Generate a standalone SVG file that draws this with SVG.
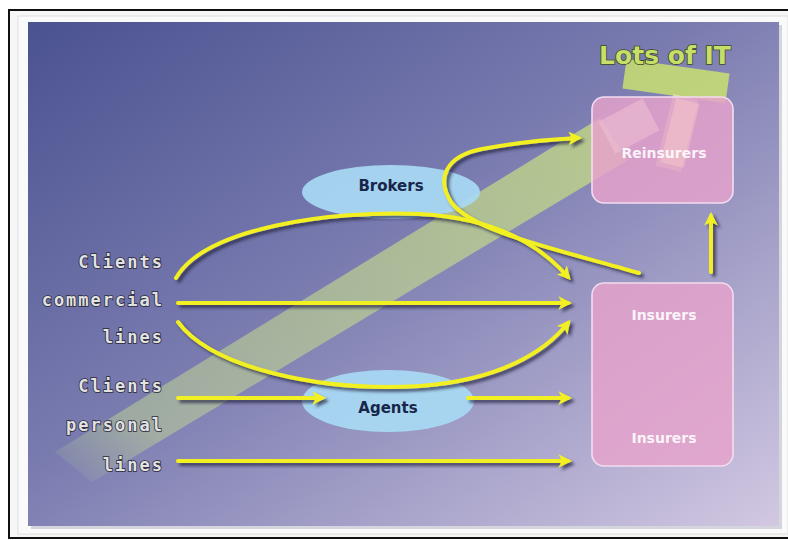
<svg xmlns="http://www.w3.org/2000/svg" width="788" height="540" viewBox="0 0 788 540">
  <defs>
    <linearGradient id="bg" x1="0" y1="0" x2="1" y2="1">
      <stop offset="0" stop-color="#4a5290"/>
      <stop offset="0.45" stop-color="#7a7cb0"/>
      <stop offset="1" stop-color="#d2c8e2"/>
    </linearGradient>
    <linearGradient id="band" x1="0" y1="1" x2="1" y2="0">
      <stop offset="0" stop-color="#c8e090" stop-opacity="0"/>
      <stop offset="0.15" stop-color="#c8e090" stop-opacity="0.45"/>
      <stop offset="1" stop-color="#c8e080" stop-opacity="0.75"/>
    </linearGradient>
    <filter id="sh" x="-10%" y="-10%" width="130%" height="140%">
      <feDropShadow dx="3" dy="3" stdDeviation="1.5" flood-color="#202040" flood-opacity="0.7"/>
    </filter>
    <marker id="ah" viewBox="0 0 10 10" refX="7" refY="5" markerWidth="3.4" markerHeight="3.4" orient="auto" markerUnits="strokeWidth">
      <path d="M0,0 L10,5 L0,10 L2.5,5 Z" fill="#f2f020"/>
    </marker>
  </defs>
  <style>
    .lbl { font-family: "DejaVu Sans Mono", "Liberation Mono", monospace; font-weight: bold; font-size: 17px; letter-spacing: 2px; fill: #e2e2e2; stroke: #2a2a3a; stroke-width: 1.6px; paint-order: stroke; text-anchor: end; }
    .box { fill: #e6a2cc; fill-opacity: 0.82; stroke: #f4dcf0; stroke-width: 1.6; }
    .boxt { font-family: "DejaVu Sans", "Liberation Sans", sans-serif; font-weight: bold; font-size: 14px; fill: #ffffff; fill-opacity: 0.9; text-anchor: middle; }
    .ell { fill: #a8daf4; fill-opacity: 0.92; }
    .ellt { font-family: "DejaVu Sans", "Liberation Sans", sans-serif; font-weight: bold; font-size: 15px; fill: #18264a; text-anchor: middle; }
    .yl { fill: none; stroke: #f2f020; stroke-width: 4; stroke-linecap: round; marker-end: url(#ah); }
  </style>

  <rect x="0" y="0" width="788" height="540" fill="#ffffff"/>
  <rect x="9" y="10" width="790" height="528" fill="#f6f6f6" stroke="#111111" stroke-width="2"/>
  <rect x="18" y="16" width="770" height="518" fill="#fafafa" stroke="#dedede" stroke-width="1"/>
  <rect x="31" y="25" width="751" height="504" fill="#b0b0c0" opacity="0.5"/>
  <rect x="28" y="22" width="751" height="504" fill="url(#bg)"/>

  <g id="it-arrow">
    <polygon points="55,452 600,118 628,160 92,482" fill="url(#band)"/>
    <rect x="624" y="66" width="104" height="30" fill="#c8e070" fill-opacity="0.85" transform="rotate(8 676 81)"/>
    <rect x="664" y="96" width="26" height="74" fill="#f4e8b0" fill-opacity="0.6" transform="rotate(14 677 133)"/>
    <text x="665" y="64" font-family="DejaVu Sans, Liberation Sans, sans-serif" font-weight="bold" font-size="25" fill="#c6de6a" stroke="#3c4a1c" stroke-width="1.6" paint-order="stroke" text-anchor="middle">Lots of IT</text>
  </g>

  <g id="reinsurers">
    <rect class="box" x="592" y="97" width="141" height="106" rx="12"/>
    <rect x="604" y="108" width="50" height="36" fill="#f2c4d4" fill-opacity="0.5" transform="rotate(-28 629 126)"/>
    <rect x="668" y="100" width="24" height="66" fill="#f2c4c8" fill-opacity="0.55" transform="rotate(14 680 133)"/>
    <text class="boxt" x="664" y="158">Reinsurers</text>
  </g>

  <g id="insurers">
    <rect class="box" x="592" y="283" width="141" height="183" rx="12"/>
    <text class="boxt" x="664" y="320">Insurers</text>
    <text class="boxt" x="664" y="443">Insurers</text>
  </g>

  <g id="brokers">
    <ellipse class="ell" cx="391" cy="192" rx="89" ry="27"/>
    <text class="ellt" x="391" y="191">Brokers</text>
  </g>

  <g id="agents">
    <ellipse class="ell" cx="388" cy="401" rx="86" ry="31"/>
    <text class="ellt" x="388" y="413">Agents</text>
  </g>

  <g id="clients-commercial">
    <text class="lbl" x="164" y="268">Clients</text>
    <text class="lbl" x="164" y="306">commercial</text>
    <text class="lbl" x="164" y="343">lines</text>
  </g>

  <g id="clients-personal">
    <text class="lbl" x="164" y="392">Clients</text>
    <text class="lbl" x="164" y="431">personal</text>
    <text class="lbl" x="164" y="471">lines</text>
  </g>

  <g id="connectors" filter="url(#sh)">
    <path class="yl" d="M176,278 C205,228 330,210 420,214 C495,218 540,245 568,277"/>
    <path class="yl" d="M178,303 L568,303"/>
    <path class="yl" d="M178,322 C212,368 320,392 420,386 C500,380 545,352 568,323"/>
    <path class="yl" d="M178,398 L322,398"/>
    <path class="yl" d="M468,398 L568,398"/>
    <path class="yl" d="M178,461 L568,461"/>
    <path class="yl" d="M639,273 C560,250 472,232 451,202 C436,178 446,156 482,149 C520,142 555,139 578,138"/>
    <path class="yl" d="M711,272 L711,216"/>
  </g>
</svg>
